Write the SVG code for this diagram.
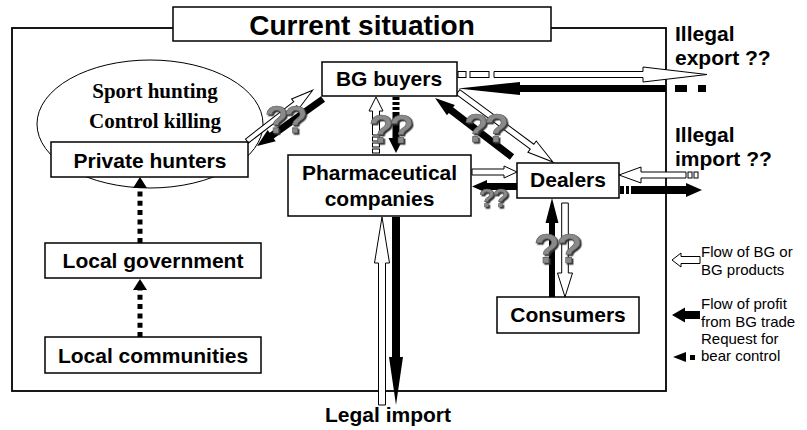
<svg xmlns="http://www.w3.org/2000/svg" width="807" height="430" viewBox="0 0 807 430">
<defs>
<style>
.box{fill:#fff;stroke:#000;stroke-width:1.5}
.lbl{font-family:"Liberation Sans",Arial,sans-serif;font-weight:bold;font-size:21px;fill:#000}
.ser{font-family:"Liberation Serif","Times New Roman",serif;font-weight:bold;font-size:21px;fill:#000}
.leg{font-family:"Liberation Sans",Arial,sans-serif;font-size:15px;fill:#000}
.w{fill:#fff;stroke:#000;stroke-width:1}
.b{fill:#000;stroke:none}
.dot{stroke:#000;stroke-width:5;stroke-dasharray:5 4.3;fill:none}
.q{font-family:"Liberation Sans",Arial,sans-serif;font-weight:bold;fill:#8a8a8a;stroke:#5a5a5a;stroke-width:0.6;filter:url(#sh)}
</style>
<filter id="sh" x="-20%" y="-20%" width="150%" height="150%">
<feDropShadow dx="1.5" dy="1.5" stdDeviation="0.6" flood-color="#333"/>
</filter>
</defs>
<rect width="807" height="430" fill="#fff"/>

<!-- frame -->
<rect x="12" y="28" width="654" height="363" fill="none" stroke="#000" stroke-width="1.8"/>

<g id="title">
<rect class="box" x="173" y="7" width="378" height="34"/>
<text class="lbl" x="362" y="35" text-anchor="middle" style="font-size:28px">Current situation</text>
</g>

<g id="hunting-ellipse">
<ellipse cx="150" cy="124" rx="113" ry="64" fill="#fff" stroke="#000" stroke-width="1"/>
<text class="ser" x="155" y="98" text-anchor="middle">Sport hunting</text>
<text class="ser" x="155" y="128" text-anchor="middle">Control killing</text>
</g>

<g id="connectors">
<!-- dotted requests -->
<line class="dot" x1="140" y1="337" x2="140" y2="288"/>
<polygon class="b" points="140,279 147,290 133,290"/>
<line class="dot" x1="140" y1="243" x2="140" y2="186"/>
<polygon class="b" points="140,177 147,188 133,188"/>

<!-- Private hunters <-> BG buyers -->
<path class="w" transform="translate(247,141) rotate(-37.7)" d="M0,-2.5 H61 V-6 L83,0 L61,6 V2.5 H0 Z"/>
<path class="b" transform="translate(323,99) rotate(144.5)" d="M0,-3.5 H63 V-7 L81,0 L63,7 V3.5 H0 Z"/>

<!-- Pharma <-> BG buyers -->
<path class="w" d="M372.5,135 V111 H369 L376,97 L383,111 H379.5 V135 Z"/>
<rect class="w" x="372.5" y="137" width="7" height="4"/>
<rect class="w" x="372.5" y="143" width="7" height="4"/>
<rect class="w" x="372.5" y="149" width="7" height="4"/>
<rect class="b" x="392.5" y="97" width="7" height="3"/>
<rect class="b" x="392.5" y="102" width="7" height="3"/>
<rect class="b" x="392.5" y="107" width="7" height="3"/>
<path class="b" d="M392.5,112 V138 H388.5 L396,153 L403.5,138 H399.5 V112 Z"/>

<!-- BG buyers <-> Illegal export -->
<rect class="w" x="458" y="71.5" width="8" height="6"/>
<rect class="w" x="470" y="71.5" width="19" height="6"/>
<path class="w" d="M494,71.5 H643 V67 L707,74.5 L643,82 V77.5 H494 Z"/>
<path class="b" d="M666,85 H520 V82 L458,88.5 L520,95 V92 H666 Z"/>
<rect class="b" x="675" y="85" width="12" height="7"/>
<rect class="b" x="698" y="85" width="8" height="7"/>

<!-- BG buyers <-> Dealers -->
<path class="w" transform="translate(458,92) rotate(36.4)" d="M0,-3 H92 V-7 L118,0 L92,7 V3 H0 Z"/>
<path class="b" transform="translate(512,157) rotate(217.5)" d="M0,-3.5 H77 V-6.5 L97,0 L77,6.5 V3.5 H0 Z"/>

<!-- Pharma <-> Dealers -->
<path class="w" d="M472,169 H504 V166 L517,172 L504,178 V175 H472 Z"/>
<path class="b" d="M517,183 H487 V180 L472,186.5 L487,193 V190 H517 Z"/>

<!-- Dealers <-> Illegal import -->
<path class="w" d="M686,172 H641 V167 L619,175 L641,183 V178 H686 Z"/>
<rect class="w" x="688" y="172" width="4" height="6"/>
<rect class="w" x="694" y="172" width="4" height="6"/>
<rect class="b" x="620" y="186" width="4" height="8"/>
<rect class="b" x="626" y="186" width="3" height="8"/>
<path class="b" d="M631,186 H686 V183 L702,190 L686,197 V194 H631 Z"/>

<!-- Dealers <-> Consumers -->
<path class="b" d="M549,297 V223 H545.5 L552,198 L558.5,223 H555 V297 Z"/>
<path class="w" d="M561.7,203 V273 H557.5 L565,297 L572.5,273 H568.3 V203 Z"/>

<!-- Pharma <-> Legal import -->
<path class="w" d="M378.5,405 V263 H374.5 L382,217 L389.5,263 H385.5 V405 Z"/>
<path class="b" d="M392,217 V357 H389 L396,405 L403,357 H400 V217 Z"/>
</g>

<g id="private-hunters">
<rect class="box" x="51" y="142" width="197" height="35"/>
<text class="lbl" x="150" y="168" text-anchor="middle">Private hunters</text>
</g>

<g id="bg-buyers">
<rect class="box" x="322" y="62" width="135" height="34"/>
<text class="lbl" x="389" y="86" text-anchor="middle">BG buyers</text>
</g>

<g id="pharmaceutical-companies">
<rect class="box" x="288" y="155" width="183" height="61"/>
<text class="lbl" x="379.5" y="180" text-anchor="middle">Pharmaceutical</text>
<text class="lbl" x="379.5" y="206" text-anchor="middle">companies</text>
</g>

<g id="dealers">
<rect class="box" x="517" y="163" width="102" height="35"/>
<text class="lbl" x="568" y="187" text-anchor="middle">Dealers</text>
</g>

<g id="consumers">
<rect class="box" x="497" y="297" width="142" height="36"/>
<text class="lbl" x="568" y="322" text-anchor="middle">Consumers</text>
</g>

<g id="local-government">
<rect class="box" x="45" y="243" width="216" height="35"/>
<text class="lbl" x="153" y="268" text-anchor="middle">Local government</text>
</g>

<g id="local-communities">
<rect class="box" x="45" y="337" width="216" height="36"/>
<text class="lbl" x="153" y="363" text-anchor="middle">Local communities</text>
</g>

<g id="illegal-export">
<text class="lbl" x="675" y="41">Illegal</text>
<text class="lbl" x="675" y="65">export ??</text>
</g>

<g id="illegal-import">
<text class="lbl" x="675" y="142">Illegal</text>
<text class="lbl" x="675" y="166">import ??</text>
</g>

<g id="legal-import">
<text class="lbl" x="388" y="422" text-anchor="middle">Legal import</text>
</g>

<g id="question-marks">
<text class="q" x="265" y="133" style="font-size:38px;letter-spacing:-4px">??</text>
<text class="q" x="369" y="143" style="font-size:40px;letter-spacing:-4px">??</text>
<text class="q" x="464" y="142" style="font-size:40px;letter-spacing:-4px">??</text>
<text class="q" x="479" y="207" style="font-size:26px;letter-spacing:-2px">??</text>
<text class="q" x="534" y="263" style="font-size:42px;letter-spacing:-3px">??</text>
</g>

<g id="legend">
<path class="w" d="M700,256.5 H681 V253 L672,260 L681,267 V263.5 H700 Z"/>
<text class="leg" x="701" y="257">Flow of BG or</text>
<text class="leg" x="701" y="275">BG products</text>
<path class="b" d="M700,311 H685 V307.5 L672,315 L685,322.5 V319 H700 Z"/>
<text class="leg" x="701" y="309">Flow of profit</text>
<text class="leg" x="701" y="327">from BG trade</text>
<polygon class="b" points="673,357 686,352 686,362"/>
<rect class="b" x="690" y="355" width="5" height="5"/>
<text class="leg" x="701" y="344">Request for</text>
<text class="leg" x="701" y="361">bear control</text>
</g>
</svg>
